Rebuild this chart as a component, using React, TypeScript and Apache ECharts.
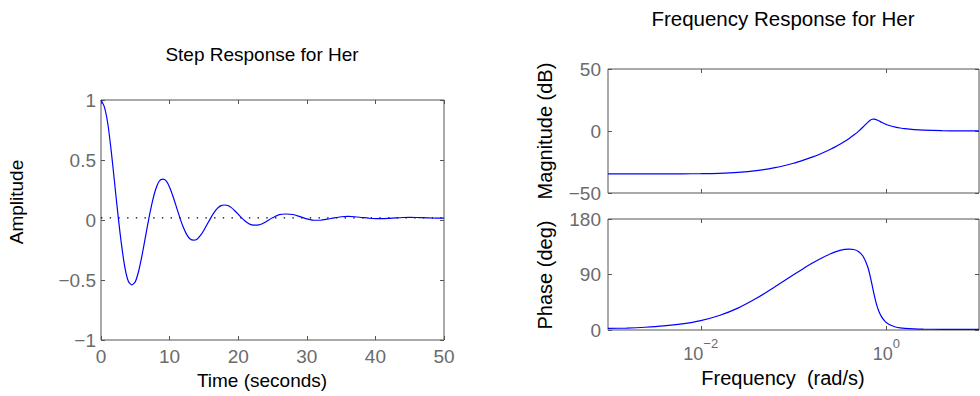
import React, { useEffect, useRef } from 'react';
import * as echarts from 'echarts';

// ---- Step response ----
const stepTime = [
  0, 0.5, 1, 1.5, 2, 2.5, 3, 3.5, 4, 4.5, 5, 5.5, 6, 6.5, 7, 7.5, 8, 8.5, 9, 9.5,
  10, 10.5, 11, 11.5, 12, 12.5, 13, 13.5, 14, 14.5, 15, 15.5, 16, 16.5, 17, 17.5,
  18, 18.5, 19, 19.5, 20, 20.5, 21, 21.5, 22, 22.5, 23, 23.5, 24,
  25, 26, 27, 28, 29, 30, 31, 32, 33, 34, 35, 36, 37, 38, 39, 40, 41, 42, 43, 44,
  45, 46, 47, 48, 49, 50,
];
const stepAmp = [
  1.0, 0.941, 0.8, 0.57, 0.3, 0.03, -0.21, -0.401, -0.513, -0.54, -0.515, -0.423,
  -0.289, -0.135, 0.019, 0.155, 0.26, 0.325, 0.34, 0.326, 0.273, 0.196, 0.107,
  0.018, -0.061, -0.122, -0.159, -0.168, -0.16, -0.129, -0.085, -0.033, 0.018,
  0.064, 0.099, 0.12, 0.125, 0.121, 0.103, 0.077, 0.048, 0.018, -0.008, -0.029,
  -0.041, -0.043, -0.041, -0.031, -0.016,
  0.018, 0.045, 0.05, 0.046, 0.028, 0.009, -0.002, -0.002, 0.007, 0.018, 0.027,
  0.03, 0.027, 0.021, 0.015, 0.011, 0.011, 0.014, 0.018, 0.021, 0.022, 0.021,
  0.019, 0.017, 0.016, 0.016,
];
const steadyState = 0.018;
const stepXRange = [0, 50];
const stepYRange = [-1, 1];

// ---- Frequency response ----
const freq = [
  0.001, 0.001585, 0.002512, 0.003981, 0.00631, 0.01, 0.01585, 0.02512, 0.03981,
  0.0631, 0.1, 0.1259, 0.1585, 0.1995, 0.2512, 0.2818, 0.3162, 0.3548, 0.3981,
  0.4467, 0.5012, 0.5623, 0.631, 0.6761, 0.7079, 0.7244, 0.7413, 0.7586, 0.7943,
  0.8318, 0.8913, 0.955, 1, 1.122, 1.259, 1.413, 1.585, 1.995, 2.512, 3.981, 6.31, 10,
];
const magDb = [
  -34.6, -34.6, -34.6, -34.55, -34.5, -34.4, -34.1, -33.4, -32.0, -29.6, -26.0,
  -23.7, -21.1, -18.1, -14.7, -12.8, -10.7, -8.5, -6.0, -3.3, -0.3, 3.2, 7.0, 8.9,
  9.5, 9.6, 9.55, 9.4, 8.9, 8.2, 7.0, 5.9, 5.3, 4.0, 3.1, 2.4, 1.85, 1.13, 0.7,
  0.27, 0.11, 0.04,
];
const phaseDeg = [
  2.5, 3.2, 4.5, 6.6, 10.0, 15.3, 23.5, 35.5, 51.4, 70.1, 89.5, 99.0, 108.1, 116.4,
  123.6, 126.6, 129.0, 130.6, 131.3, 130.5, 127.3, 119.6, 102.5, 85.1, 71.0, 63.8,
  56.9, 50.4, 39.1, 30.4, 21.2, 15.2, 12.3, 7.6, 4.9, 3.4, 2.6, 1.8, 1.4, 1.1, 1.0, 1.0,
];
const freqRange = [0.001, 10];
const freqTicks = [0.01, 1];
const magRange = [-50, 50];
const phaseRange = [0, 180];

const FONT = 'Liberation Sans, Arial, Helvetica, sans-serif';
const AXIS_COLOR = '#555555';
const TICK_TEXT = '#6b6b6b';
const minus = (v: number) => String(v).replace('-', '\u2212');

export default function App() {
  const ref = useRef<HTMLDivElement>(null);

  useEffect(() => {
    if (!ref.current) return;
    const chart = echarts.init(ref.current, null, { renderer: 'svg' });

    const tick = { show: true, inside: true, length: 4, lineStyle: { color: AXIS_COLOR, width: 1 } };
    const noLine = { show: false, onZero: false };
    const noSplit = { show: false };
    const gridBase = { show: true, borderColor: AXIS_COLOR, borderWidth: 1, backgroundColor: 'transparent', containLabel: false, outerBoundsMode: 'none' };

    const valueX = (gridIndex: number, position: string, showLabel: boolean) => ({
      type: 'value', gridIndex, position, min: stepXRange[0], max: stepXRange[1], interval: 10,
      axisLine: noLine, splitLine: noSplit, axisTick: tick,
      axisLabel: { show: showLabel, color: TICK_TEXT, fontSize: 19, fontFamily: FONT, margin: 7 },
    });
    const logX = (gridIndex: number, position: string, showLabel: boolean) => ({
      type: 'log', logBase: 10, gridIndex, position, min: freqRange[0], max: freqRange[1],
      axisLine: noLine, splitLine: noSplit, minorTick: { show: false }, minorSplitLine: { show: false },
      axisTick: { ...tick, customValues: freqTicks },
      axisLabel: {
        show: showLabel, customValues: freqTicks, margin: 7, fontFamily: FONT,
        formatter: (v: number) => {
          const e = Math.round(Math.log10(v));
          return `{b|10}{s|${e < 0 ? '\u2212' : ''}${Math.abs(e)}}`;
        },
        rich: {
          b: { fontSize: 18, color: TICK_TEXT, fontFamily: FONT, padding: [8, 0, 0, 0], verticalAlign: 'bottom' },
          s: { fontSize: 13, color: TICK_TEXT, fontFamily: FONT, verticalAlign: 'top' },
        },
      },
    });
    const valueY = (gridIndex: number, position: string, showLabel: boolean, range: number[], interval: number, margin: number) => ({
      type: 'value', gridIndex, position, min: range[0], max: range[1], interval,
      axisLine: noLine, splitLine: noSplit, axisTick: tick,
      axisLabel: { show: showLabel, color: TICK_TEXT, fontSize: 19, fontFamily: FONT, margin, formatter: (v: number) => minus(v) },
    });

    const text = (t: string, x: number, y: number, size: number, rot = 0) => ({
      type: 'text', x, y, rotation: rot, silent: true,
      style: { text: t, fontSize: size, fontFamily: FONT, fill: '#000', align: 'center', verticalAlign: 'middle' },
    });

    const option: any = {
      animation: false,
      backgroundColor: '#ffffff',
      textStyle: { fontFamily: FONT },
      grid: [
        { ...gridBase, left: 101, top: 100, width: 343, height: 240 },
        { ...gridBase, left: 608, top: 69, width: 371, height: 124 },
        { ...gridBase, left: 608, top: 219, width: 371, height: 111 },
      ],
      xAxis: [
        valueX(0, 'bottom', true),
        valueX(0, 'top', false),
        logX(1, 'bottom', false),
        logX(1, 'top', false),
        logX(2, 'bottom', true),
        logX(2, 'top', false),
      ],
      yAxis: [
        valueY(0, 'left', true, stepYRange, 0.5, 5),
        valueY(0, 'right', false, stepYRange, 0.5, 5),
        valueY(1, 'left', true, magRange, 50, 7),
        valueY(1, 'right', false, magRange, 50, 7),
        valueY(2, 'left', true, phaseRange, 90, 7),
        valueY(2, 'right', false, phaseRange, 90, 7),
      ],
      series: [
        {
          name: 'Steady state', type: 'line', xAxisIndex: 0, yAxisIndex: 0, z: 1,
          data: [[stepXRange[0], steadyState], [stepXRange[1], steadyState]],
          showSymbol: false, silent: true,
          lineStyle: { color: '#000000', width: 1.4, type: [1.4, 7.3] },
        },
        {
          name: 'Step', type: 'line', xAxisIndex: 0, yAxisIndex: 0, z: 3,
          data: stepTime.map((t, i) => [t, stepAmp[i]]),
          showSymbol: false, smooth: 0.25,
          lineStyle: { color: '#0000ff', width: 1.2 },
        },
        {
          name: 'Magnitude', type: 'line', xAxisIndex: 2, yAxisIndex: 2, z: 3,
          data: freq.map((f, i) => [f, magDb[i]]),
          showSymbol: false, smooth: 0.3,
          lineStyle: { color: '#0000ff', width: 1.2 },
        },
        {
          name: 'Phase', type: 'line', xAxisIndex: 4, yAxisIndex: 4, z: 3,
          data: freq.map((f, i) => [f, phaseDeg[i]]),
          showSymbol: false, smooth: 0.3,
          lineStyle: { color: '#0000ff', width: 1.2 },
        },
      ],
      graphic: [
        text('Step Response for Her', 262, 54, 19),
        text('Time (seconds)', 262, 380, 19),
        text('Amplitude', 16, 202, 19, Math.PI / 2),
        text('Frequency Response for Her', 783, 18, 20.5),
        text('Frequency  (rad/s)', 783, 378, 20),
        text('Magnitude (dB)', 545, 131, 20, Math.PI / 2),
        text('Phase (deg)', 545, 275, 20, Math.PI / 2),
      ],
    };

    chart.setOption(option);
    return () => chart.dispose();
  }, []);

  return (
    <div
      ref={ref}
      style={{ position: 'fixed', left: 0, top: 0, width: 980, height: 396, background: '#fff' }}
    />
  );
}
